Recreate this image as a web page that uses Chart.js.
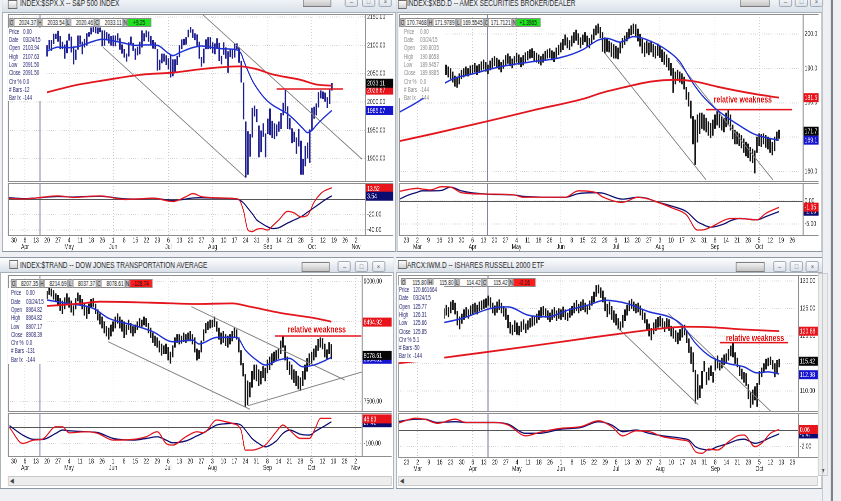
<!DOCTYPE html>
<html>
<head>
<meta charset="utf-8">
<title>Four market panels</title>
<script src="https://cdn.jsdelivr.net/npm/chart.js@4.4.1/dist/chart.umd.min.js"></script>
<style>
  html, body { margin: 0; padding: 0; }
  body { width: 841px; height: 501px; overflow: hidden; background: #eef0f3; position: relative; }
  /* the captured screen is squeezed horizontally, so the whole stage is too */
  #stage { position: absolute; left: 0; top: 0; height: 501px; transform: scaleX(0.72); transform-origin: 0 0;
           font-family: "Liberation Sans", Arial, sans-serif; }
  .abs { position: absolute; box-sizing: border-box; }
  .win { border: 1px solid #8d97a3; background: #fff; }
  .tbar { background: linear-gradient(#fdfdfe, #d9e0e8); border-bottom: 1px solid #a6afba; }
  .ttext { font-size: 9px; color: #2b2b2b; white-space: nowrap; }
  .icon { border: 1px solid #6d6d6d; background: linear-gradient(#fff, #cfcfcf); }
  .btn { border: 1px solid #97a1ad; border-radius: 2px; background: linear-gradient(#fbfcfd, #dce2e9);
         font-size: 8px; line-height: 9px; color: #5a5a5a; text-align: center; }
  .tool { border: 1px solid #7d7d7d; background: linear-gradient(#f2f2f2, #c4c4c4); }
  .cell { border: 1px solid #8a8a8a; background: #fff; font-size: 6.6px; line-height: 7px; color: #111;
          text-align: right; padding-right: 1px; white-space: nowrap; overflow: hidden; }
  .key { background: #c6c6c6; text-align: center; padding: 0; }
  .info { background: #fff; }
  .row { font-size: 6.3px; line-height: 8px; white-space: nowrap; }
  .scroll { background: #ededed; border: 1px solid #c9c9c9; font-size: 7px; line-height: 8px; color: #444; }
</style>
</head>
<body>
<div id="stage"></div>
<script>
const K = 0.72;
const X = px => px / K;   // screen px -> stage px
const FONT = '"Liberation Sans", Arial, sans-serif';

// ---------- axis labels (one tick per week, bar index = 5 * week) ----------
const leftWeeks = ['30','6','13','20','27','4','11','18','26','1','8','15','22','29','6','13','20','27','3','10','17','24','31','8','14','21','28','5','12','19','26','2'];
const leftMonths = ['','Apr','','','','May','','','','Jun','','','','','Jul','','','','Aug','','','','','Sep','','','','Oct','','','','Nov'];
const rightWeeks = ['23','2','9','16','23','30','6','13','20','27','4','11','18','26','1','8','15','22','29','6','13','20','27','3','10','17','24','31','8','14','21','28','5','12','19','26'];
const rightMonths = ['','Mar','','','','','Apr','','','','May','','','','Jun','','','','','Jul','','','','Aug','','','','','Sep','','','','Oct','','',''];
const infoLabels = ['Price','Date','Open','High','Low','Close','Chr %','# Bars','Bar Ix'];

// ---------- S&P 500 ----------
const spxStart = 15;
const spxHigh = [2100,2109,2109,2120,2120, 2125,2116,2106,2101,2108, 2120,2115,2098,2092,2117, 2117,2106,2111,2121,2123,
  2131,2134,2134,2131,2131, 2126,2126,2123,2120,2116, 2117,2117,2121,2112,2101, 2093,2085,2105,2115,2104,
  2094,2097,2106,2126,2121, 2126,2124,2116,2109,2105, 2093,2074,2085,2085,2082, 2077,2083,2075,2075,2081,
  2100,2110,2111,2114,2127, 2132,2128,2121,2119,2106, 2079,2094,2110,2114,2114, 2105,2103,2112,2104,2081,
  2105,2096,2089,2092,2092, 2103,2103,2096,2072,2034, 1965,1948,1943,1989,1993, 1987,1958,1949,1962,1944,
  1970,1988,1966,1962,1960, 1965,1980,1998,2021,1992, 1971,1953,1947,1937,1952, 1931,1899,1922,1928,1951,
  1989,1991,1997,2017,2020, 2018,2016,2008,2023,2033];
const spxLow = [2081,2094,2091,2103,2112, 2107,2094,2094,2077,2087, 2109,2088,2067,2075,2093, 2102,2085,2097,2100,2116,
  2120,2124,2122,2121,2124, 2099,2100,2112,2104,2100, 2099,2099,2109,2093,2086, 2079,2072,2081,2103,2091,
  2075,2083,2085,2097,2108, 2115,2107,2102,2095,2094, 2056,2057,2069,2072,2066, 2058,2044,2046,2052,2066,
  2080,2094,2101,2102,2115, 2123,2114,2110,2100,2077, 2063,2069,2094,2094,2094, 2087,2085,2095,2073,2067,
  2084,2077,2052,2080,2077, 2079,2094,2070,2035,1970, 1867,1872,1904,1938,1975, 1965,1903,1912,1939,1903,
  1944,1942,1937,1935,1940, 1948,1953,1977,1984,1953, 1952,1928,1930,1909,1922, 1872,1872,1887,1901,1893,
  1950,1971,1977,1991,2007, 2006,2001,1990,1997,2021];
const spxFastIdx = [15,20,25,30,35,40,45,50,55,60,65,70,72,75,78,80,85,90,95,100,103,104,106,108,110,114,117,120,124,128,131,133,135,137,140,144];
const spxFast = [2090,2097,2096,2099,2106,2111,2108,2104,2100,2101,2100,2086,2082,2087,2092,2095,2099,2096,2094,2093,2085,2074,2055,2038,2025,2005,1995,1988,1979,1965,1953,1946,1950,1959,1971,1985];
const spxSlowIdx = [15,27,42,57,72,87,102,110,117,130,137,144];
const spxSlow = [2017,2029,2039,2048,2052,2059,2063,2058,2049,2039,2031,2029];
const spxTrend = [[85.7, 2153.7, 157.7, 1899], [40.3, 2097, 104.7, 1867.5]];
const spxResist = [119, 149, 2023];
const spxMacdIdx = [-3,4,10,20,27,39,50,57,63,72,78,81,85,92,100,102,104,106,108,110,112,115,117,120,124,127,130,133,136,139,141,144];
const spxMacd = [1,0,1.3,4,2,4,-0.6,0.2,1,-3.2,3,7,3,1.5,0.5,-1,-15,-40,-42,-39,-38,-40,-35,-27,-16,-18,-23,-21,-4,7,11,14.5];
const spxSignal = [2,0.4,1.3,3.2,2.6,3.6,0.3,0,0.9,-1.9,0,1.3,1.7,1,0.4,-1,-5,-12,-19,-27,-31,-36,-38,-37,-31,-27,-23,-17,-11,-5,-1,4];
const spxTicks = [2150, 2100, 2050, 2000, 1950, 1900];
const spxMacdTicks = [-20, -40];
const spxTags = [[2021, '2028.67', '#e8141c'], [2033.11, '2033.11', '#050505'], [1985.07, '1985.07', '#1515d0']];
const spxMacdTags = [[13.52, '13.52', '#e8141c'], [3.54, '3.54', '#0b0b70']];
const spxOhlc = ['2024.37', '2033.54', '2020.46', '2033.11', '+9.25'];
const spxInfo = ['0.00', '03/24/15', '2103.94', '2107.63', '2091.50', '2091.50', '0.0', '-12', '-144'];

// ---------- Broker/Dealer index ----------
const xbdStart = 15;
const xbdHigh = [191.0,192.0,191.5,191.0,190.5, 190.0,189.0,187.8,187.5,188.5, 189.5,190.0,190.5,190.0,190.8,
  191.0,191.5,190.8,191.2,192.0, 192.5,191.8,191.0,192.2,193.0, 193.5,193.0,192.5,191.8,192.5,
  193.8,194.3,193.5,192.8,193.5, 194.5,194.0,193.2,193.8,194.6, 195.0,195.5,195.8,195.0,194.5,
  194.0,193.5,194.2,195.0,195.5, 195.8,195.2,194.8,196.0,196.8, 197.5,198.5,199.8,199.0,198.2,
  199.5,200.5,201.2,200.2,199.0, 199.8,200.5,199.5,198.8,199.8, 201.5,202.5,203.0,202.0,200.5,
  199.0,198.5,198.0,197.5,197.0, 196.5,196.0,197.5,198.8,199.5, 200.5,201.5,202.5,203.0,202.8,
  201.5,200.0,198.5,197.5,198.0, 197.5,198.0,197.0,196.5,197.2, 196.5,195.5,194.8,194.0,193.0,
  191.5,190.0,189.0,189.5,189.0, 188.5,187.5,184.5,183.0,180.5, 176.0,175.0,176.5,177.0,177.0,
  176.5,175.5,174.5,174.0,175.0, 176.5,177.5,177.0,176.0,175.5, 177.0,178.0,176.5,173.5,172.0,
  171.5,171.0,170.5,169.5,168.5, 168.0,167.0,166.5,166.0,170.0, 171.0,170.8,171.0,170.5,170.0,
  169.5,168.5,170.0,171.5,172.0];
const xbdLow = [188.5,189.5,188.8,188.2,187.5, 187.0,186.0,184.8,184.5,185.5, 187.0,187.5,188.0,187.8,188.2,
  188.5,189.0,188.2,188.8,189.5, 189.8,189.2,188.5,189.6,190.2, 190.8,190.5,189.8,189.0,190.0,
  191.0,191.5,190.8,190.2,191.0, 191.8,191.2,190.5,191.0,192.0, 192.5,193.0,193.2,192.2,191.8,
  191.5,191.0,191.8,192.5,193.0, 193.2,192.5,192.0,193.2,194.0, 194.8,195.5,196.8,196.0,195.5,
  196.5,197.5,198.2,197.0,196.0, 197.0,197.8,196.5,196.0,197.2, 198.5,199.8,200.3,199.0,195.0,
  194.5,195.0,194.8,193.5,193.0, 193.0,192.8,194.5,196.0,197.0, 198.0,199.0,199.8,200.2,199.5,
  198.0,196.5,194.5,193.5,194.5, 194.0,194.8,193.5,193.0,193.8, 193.2,192.0,191.2,190.5,189.5,
  188.0,183.0,185.5,186.5,186.0, 185.5,184.0,181.0,179.0,175.5, 168.0,162.0,168.5,171.0,172.5,
  172.0,171.5,170.5,169.8,170.5, 172.5,173.5,172.8,172.0,171.5, 173.0,173.5,172.0,169.5,168.0,
  168.0,167.5,166.8,165.5,164.5, 164.0,163.0,162.5,159.5,165.5, 167.5,167.2,168.0,167.0,166.5,
  165.5,164.8,166.0,169.0,169.6];
const xbdFastIdx = [-4,5,16,22,28,43,55,70,80,87,91,97,103,111,118,124,129,134,140,146,152,158,164,169];
const xbdFast = [177,180.2,185.2,187.2,188.1,190.6,191.8,193.2,195.5,198.3,198.8,197.7,199.3,197.9,195.4,192,186.7,182.3,178.4,175.5,173,170.8,169.7,169.1];
const xbdSlowIdx = [-4,13,36,58,81,88,100,111,122,131,141,156,169];
const xbdSlow = [168.7,171.1,174.5,177.9,181.3,182.8,184.7,186.2,186.7,186.2,184.7,182.8,181.5];
const xbdTrend = [[90, 194.5, 136, 157.5], [122.5, 192.5, 166.3, 157.5]];
const xbdResist = [136, 175, 178];
const xbdNote = [152.6, 180.8];
const xbdMacdIdx = [-4,1,5,7,11,16,20,25,36,49,53,72,78,86,89,98,105,109,113,121,127,132,134,138,144,147,151,159,163,169];
const xbdMacd = [2.0,2.5,2.75,2.6,2.4,3.1,3.0,1.8,1.5,1.3,0.8,0.8,2.2,1.8,0.9,-0.3,0.8,0.5,-0.1,-1.6,-3.0,-6.3,-6.3,-5.7,-4.2,-3.8,-3.8,-4.1,-2.7,-1.4];
const xbdSignal = [0.2,1.3,1.9,2.2,2.2,2.3,3.0,2.2,1.5,1.3,1.0,0.8,1.6,1.8,1.7,0.4,0.8,0.6,-0.1,-1.2,-2.3,-4.5,-5.0,-5.7,-5.0,-4.3,-3.8,-4.1,-3.4,-2.3];
const xbdTicks = [200, 190, 180, 170, 160];
const xbdMacdTicks = [0, -5];
const xbdTags = [[181.5, '181.5', '#e8141c'], [171.7, '171.7', '#050505'], [169.1, '169.1', '#1515d0']];
const xbdMacdTags = [[-2.23, '-2.23', '#0b0b70'], [-1.35, '-1.35', '#e8141c']];
const xbdOhlc = ['170.7468', '171.9789', '169.5545', '171.7121', '+1.3965'];
const xbdInfo = ['0.00', '03/24/15', '190.8035', '190.8658', '189.9457', '189.9885', '0.0', '-144', '-144'];

// ---------- Dow Jones Transportation ----------
const tranStart = 15;
const tranHigh = [8880,8930,8910,8890,8850, 8830,8790,8760,8800,8850, 8800,8760,8700,8790,8860, 8830,8780,8720,8680,8720,
  8780,8790,8720,8650,8600, 8560,8500,8440,8420,8460, 8500,8560,8600,8560,8520, 8500,8460,8520,8480,8440,
  8460,8500,8540,8520,8560, 8540,8480,8420,8360,8320, 8300,8260,8220,8200,8220, 8180,8120,8200,8300,8340,
  8340,8320,8360,8340,8360, 8380,8340,8300,8160,8140, 8260,8400,8480,8500,8520, 8520,8560,8500,8420,8360,
  8380,8340,8320,8340,8380, 8420,8400,8300,8140,7980, 7840,7760,7740,7880,7960, 7960,7900,7880,7940,7920,
  8020,8060,8100,8120,8140, 8160,8260,8320,8200,8060, 8000,7960,7900,7880,7820, 7800,7880,7960,8040,8100,
  8120,8160,8200,8280,8300, 8290,8220,8150,8240,8215];
const tranLow = [8790,8840,8820,8780,8760, 8700,8640,8600,8660,8740, 8680,8620,8580,8660,8760, 8720,8660,8580,8540,8600,
  8680,8690,8600,8520,8470, 8420,8360,8320,8280,8320, 8380,8420,8480,8420,8380, 8300,8340,8400,8360,8320,
  8360,8400,8440,8440,8460, 8440,8360,8300,8240,8200, 8180,8120,8080,8100,8100, 8020,7980,8060,8180,8240,
  8220,8230,8250,8240,8260, 8260,8220,8120,8020,8040, 8120,8260,8360,8400,8420, 8430,8440,8380,8280,8220,
  8240,8200,8180,8220,8260, 8300,8280,8120,7960,7820, 7440,7460,7560,7680,7780, 7760,7700,7720,7800,7760,
  7860,7900,7960,8000,8020, 8040,8100,8180,8020,7900, 7840,7780,7740,7700,7660, 7640,7700,7780,7880,7960,
  7980,8020,8060,8140,8180, 8160,8060,8040,8100,8037];
const tranFastIdx = [15,24,36,43,54,63,72,81,84,92,101,105,110,114,120,125,131,136,140,144];
const tranFast = [8771,8729,8667,8542,8458,8375,8250,8271,8221,8304,8304,8146,8021,7958,8021,8042,7937,7958,8000,8054];
const tranSlowIdx = [15,31,39,62,84,99,107,122,137,144];
const tranSlow = [8696,8729,8750,8738,8721,8729,8688,8604,8542,8500];
const tranTrend = [[42.7, 8250, 107, 7405], [80.5, 8688, 150, 7771], [106.2, 7450, 158.3, 7875]];
const tranResist = [118.3, 157.6, 8321];
const tranNote = [137.4, 8396];
const tranMacdIdx = [-2,4,9,13,19,22,25,33,38,45,54,60,65,69,72,78,83,86,92,96,99,103,105,108,111,114,119,122,125,130,134,137,139,141,144];
const tranMacd = [-5,-100,-80,-74,0,0,-36,-30,-40,-80,-76,-60,-30,-100,-110,-60,-30,-36,40,30,20,-20,-140,-140,-130,-110,-30,10,-20,-70,-70,0,50,50,50];
const tranSignal = [6,-50,-76,-76,-40,-20,-24,-30,-35,-70,-80,-70,-60,-80,-96,-85,-55,-36,10,18,20,10,-20,-70,-100,-120,-85,-40,-20,-45,-50,-25,-10,5,30];
const tranTicks = [9000, 8500, 8000, 7500];
const tranMacdTicks = [-100];
const tranTags = [[8494.92, '8494.92', '#e8141c'], [8030, '8054.31', '#1515d0'], [8078.61, '8078.61', '#050505']];
const tranMacdTags = [[24, '27.42', '#0b0b70'], [46.63, '46.63', '#e8141c']];
const tranOhlc = ['8207.35', '8214.69', '8037.37', '8078.61', '-128.74'];
const tranInfo = ['0.00', '03/24/15', '8964.82', '8964.82', '8907.17', '8908.39', '0.0', '-131', '-144'];

// ---------- iShares Russell 2000 ----------
const iwmStart = 15;
const iwmHigh = [124.0,124.3,125.0,125.6,125.2, 126.2,126.5,126.0,124.5,123.5, 124.0,124.8,125.2,124.8,125.5,
  125.8,126.0,125.6,126.2,126.4, 126.6,126.8,127.3,127.0,126.0, 125.5,126.2,126.6,126.0,125.4,
  125.0,123.8,122.5,122.0,122.8, 122.4,121.8,122.6,123.0,122.2, 122.8,123.2,123.6,123.4,124.0,
  124.6,125.2,125.4,125.0,124.6, 124.2,124.8,125.2,124.6,125.0, 124.8,125.3,124.8,124.2,125.0,
  125.4,126.0,126.5,125.8,126.2, 126.6,126.0,125.6,126.4,127.2, 128.0,129.2,129.3,128.8,128.2,
  127.0,125.8,126.2,125.4,124.6, 124.0,123.2,122.6,123.8,124.8, 125.6,126.4,126.7,126.2,125.8,
  126.0,125.5,124.8,124.2,123.0, 122.2,121.4,122.4,123.0,123.4, 123.6,123.2,122.6,123.2,123.0,
  121.8,121.4,121.0,120.6,121.2, 121.6,122.0,121.0,119.5,118.0, 117.0,113.8,113.0,111.0,113.6,
  115.4,113.4,114.2,114.6,113.4, 115.8,116.4,115.4,116.0,116.6, 116.8,117.6,118.2,118.8,117.0,
  116.0,114.6,114.0,113.4,113.2, 111.2,109.8,110.2,110.8,111.4, 113.6,114.2,115.0,115.8,116.0,
  116.2,115.6,115.0,115.6,115.8];
const iwmLow = [122.2,122.8,123.2,123.8,123.5, 124.2,124.8,124.0,122.0,121.3, 122.3,123.0,123.5,123.2,123.8,
  124.0,124.3,124.0,124.6,124.8, 125.0,125.2,125.6,125.2,124.2, 123.8,124.3,124.8,124.2,123.6,
  123.0,121.5,120.5,120.2,120.8, 120.3,120.2,120.8,121.2,120.6, 121.2,121.6,121.8,122.0,122.4,
  123.0,123.4,123.8,123.4,123.0, 122.6,123.0,123.4,122.8,123.2, 123.0,123.5,123.0,122.8,123.4,
  123.8,124.2,124.6,124.2,124.6, 124.8,124.4,124.0,124.8,125.6, 126.2,127.2,127.8,127.0,126.2,
  124.6,123.5,124.0,123.0,122.5, 122.0,121.3,121.0,121.6,122.8, 123.8,124.6,125.0,124.6,124.2,
  124.4,123.8,123.0,122.4,121.0, 120.0,119.3,120.4,121.0,121.6, 121.8,121.4,120.8,121.4,121.0,
  120.0,119.6,119.0,118.6,119.2, 119.8,120.2,118.8,117.0,115.0, 113.5,107.8,108.5,108.8,110.5,
  113.6,111.2,112.0,112.8,111.6, 113.8,114.2,113.8,114.2,114.8, 115.0,115.6,116.4,116.2,115.0,
  114.4,112.8,112.2,111.6,111.0, 108.6,107.0,107.6,108.4,107.2, 111.2,112.6,113.4,114.0,114.6,
  114.8,114.0,112.6,113.2,114.4];
const iwmFastIdx = [15,25,38,46,55,64,73,82,90,100,110,119,125,131,138,146,153,159,164,169];
const iwmFast = [122.3,123.2,125.0,125.3,123.8,123.5,124.7,125.6,126.5,125.9,124.4,123.5,122,118.7,116.2,115,114.4,113.3,113.5,113.1];
const iwmSlowIdx = [-5,8,25,55,85,100,116,126,138,153,169];
const iwmSlow = [115,115.6,116.5,118.1,119.8,120.6,121.4,121.7,121.6,121.2,120.9];
const iwmTrend = [[96, 121.4, 132.3, 107.5], [118.7, 124.1, 165.5, 106.2]];
const iwmResist = [142, 173, 118.8];
const iwmNote = [158, 119.6];
const iwmMacdIdx = [-4,4,8,14,22,27,40,46,54,60,70,79,87,93,98,104,110,116,125,128,131,134,137,141,146,150,153,158,161,165,169];
const iwmMacd = [0.8,1.4,1.3,0.8,1.3,0.9,0.9,0.6,-0.7,-0.3,0.2,0.4,1.1,0.4,-0.7,-0.1,-0.2,-0.8,-1.2,-1.4,-2.6,-2.8,-2.3,-2.4,-1.4,-0.7,-0.6,-2.0,-1.6,-0.4,0.06];
const iwmSignal = [1.0,1.3,1.3,0.9,1.0,0.9,0.9,0.7,-0.4,-0.4,0.1,0.3,1.0,0.6,-0.2,0,-0.4,-0.7,-1.0,-1.2,-2.0,-2.3,-2.4,-2.0,-1.6,-1.2,-1.1,-1.6,-1.4,-0.9,-0.47];
const iwmTicks = [130, 125, 120, 115, 110];
const iwmMacdTicks = [-2];
const iwmTags = [[120.88, '120.88', '#e8141c'], [115.42, '115.42', '#050505'], [112.98, '112.98', '#1515d0']];
const iwmMacdTags = [[-0.47, '-0.47', '#0b0b70'], [0.06, '0.06', '#e8141c']];
const iwmOhlc = ['115.80', '115.80', '114.42', '115.42', '-0.16'];
const iwmInfo = ['120.661664', '03/24/15', '125.77', '126.31', '125.66', '125.85', '5.1', '-50', '-144'];

// ---------------------------------------------------------------------------
function pts(idx, vals) { return idx.map((x, k) => ({ x: x, y: vals[k] })); }

const panels = [
  { win: [2, -6, 394, 258], bar: [2, -6, 394, 19], iconY: 0, title: 'INDEX:$SPX.X -- S&P 500 INDEX', titleX: 20, iconX: 8,
    tool: [303, -3, 28, 10], btns: [345, 362, 379], btnY: -4,
    price: [8, 14, 385, 168], macd: [8, 183, 385, 68], axisW: 28, xAxisH: 15,
    xMin: -2.72, xMax: 159.1, weeks: leftWeeks, months: leftMonths,
    yRange: [1858.7, 2155.5], yTicks: spxTicks, dec: 2, mRange: [-47.7, 20.6], mTicks: spxMacdTicks,
    start: spxStart, high: spxHigh, low: spxLow, barColor: '#1d1d8c',
    fast: pts(spxFastIdx, spxFast), slow: pts(spxSlowIdx, spxSlow), trend: spxTrend, resist: spxResist, note: null,
    cursor: 11.8, macdLine: pts(spxMacdIdx, spxMacd), signal: pts(spxMacdIdx, spxSignal),
    tags: spxTags, mTags: spxMacdTags,
    ohlc: { x: 9, y: 18, w: 24, cw: 24, vals: spxOhlc, bg: '#1fe31f' },
    info: { box: [8, 28, 37, 73], lx: 9, vx: 23, y0: 31.7, vals: spxInfo, color: '#23236f' } },
  { win: [397, -6, 425, 258], bar: [397, -6, 425, 19], iconY: 0, title: 'INDEX:$XBD.D -- AMEX SECURITIES BROKER/DEALER', titleX: 407, iconX: 398,
    tool: [740, -3, 30, 10], btns: [779, 795, 810], btnY: -4,
    price: [399, 14, 420, 168], macd: [399, 183, 420, 68], axisW: 16, xAxisH: 15,
    xMin: -3.4, xMax: 179.74, weeks: rightWeeks, months: rightMonths,
    yRange: [156.9, 205.9], yTicks: xbdTicks, dec: 1, mRange: [-7.6, 3.9], mTicks: xbdMacdTicks,
    start: xbdStart, high: xbdHigh, low: xbdLow, barColor: '#141414',
    fast: pts(xbdFastIdx, xbdFast), slow: pts(xbdSlowIdx, xbdSlow), trend: xbdTrend, resist: xbdResist, note: xbdNote,
    cursor: 36.7, macdLine: pts(xbdMacdIdx, xbdMacd), signal: pts(xbdMacdIdx, xbdSignal),
    tags: xbdTags, mTags: xbdMacdTags,
    ohlc: { x: 400, y: 18, w: 23.5, cw: 24, vals: xbdOhlc, bg: '#1fe31f' },
    info: { box: [399, 27, 46, 71], lx: 404, vx: 420, y0: 31.7, vals: xbdInfo, color: '#8a8a8a' } },
  { win: [0, 257, 394, 232], bar: [0, 258, 394, 15], iconY: 260, title: 'INDEX:$TRAND -- DOW JONES TRANSPORTATION AVERAGE', titleX: 20, iconX: 9,
    tool: [302, 262, 28, 10], btns: [338, 355, 372], btnY: 261,
    price: [8, 275, 384, 137], macd: [8, 413, 384, 59], axisW: 30, xAxisH: 15,
    xMin: -2.72, xMax: 157.75, weeks: leftWeeks, months: leftMonths,
    yRange: [7371, 9084], yTicks: tranTicks, dec: 2, mRange: [-181, 82], mTicks: tranMacdTicks,
    start: tranStart, high: tranHigh, low: tranLow, barColor: '#141414',
    fast: pts(tranFastIdx, tranFast), slow: pts(tranSlowIdx, tranSlow), trend: tranTrend, resist: tranResist, note: tranNote,
    cursor: 11.8, macdLine: pts(tranMacdIdx, tranMacd), signal: pts(tranMacdIdx, tranSignal),
    tags: tranTags, mTags: tranMacdTags, scroll: [8, 476, 384, 10],
    ohlc: { x: 11, y: 279, w: 24, cw: 23, vals: tranOhlc, bg: '#ff1c1c' },
    info: { box: [8, 288, 39, 76], lx: 11, vx: 26, y0: 293.3, vals: tranInfo, color: '#23236f' } },
  { win: [396, 257, 426, 232], bar: [396, 258, 426, 15], iconY: 260, title: 'ARCX:IWM.D -- ISHARES RUSSELL 2000 ETF', titleX: 407, iconX: 398,
    tool: [736, 262, 29, 10], btns: [773, 790, 806], btnY: 261,
    price: [398, 275, 420, 137], macd: [398, 413, 420, 60], axisW: 20, xAxisH: 15,
    xMin: -3.85, xMax: 177.47, weeks: rightWeeks, months: rightMonths,
    yRange: [106.2, 131.1], yTicks: iwmTicks, dec: 2, mRange: [-3.36, 2.04], mTicks: iwmMacdTicks,
    start: iwmStart, high: iwmHigh, low: iwmLow, barColor: '#141414',
    fast: pts(iwmFastIdx, iwmFast), slow: pts(iwmSlowIdx, iwmSlow), trend: iwmTrend, resist: iwmResist, note: iwmNote,
    cursor: 36.9, macdLine: pts(iwmMacdIdx, iwmMacd), signal: pts(iwmMacdIdx, iwmSignal),
    tags: iwmTags, mTags: iwmMacdTags, scroll: [398, 476, 420, 10],
    ohlc: { x: 401, y: 278, w: 22.5, cw: 22, vals: iwmOhlc, bg: '#ff1c1c' },
    info: { box: [398, 285, 46, 77], lx: 399, vx: 413, y0: 290, vals: iwmInfo, color: '#23236f' } }
];

const stage = document.getElementById('stage');
stage.style.width = X(841) + 'px';

function box(cls, r, html, style) {
  const d = document.createElement('div');
  d.className = 'abs ' + cls;
  d.style.left = X(r[0]) + 'px';
  d.style.top = r[1] + 'px';
  d.style.width = X(r[2]) + 'px';
  d.style.height = r[3] + 'px';
  if (style) Object.assign(d.style, style);
  if (html != null) d.innerHTML = html;
  stage.appendChild(d);
  return d;
}

function canvasAt(r) {
  const c = document.createElement('canvas');
  c.width = Math.round(X(r[2]));
  c.height = r[3];
  c.style.position = 'absolute';
  c.style.left = X(r[0]) + 'px';
  c.style.top = r[1] + 'px';
  stage.appendChild(c);
  return c;
}

// cursor line, zero line, frame, notes and the coloured value tags on the axis
function marks(cfg) {
  return {
    id: 'marks',
    beforeDatasetsDraw(chart) {
      const { ctx, chartArea: a } = chart;
      const x = chart.scales.x, y = chart.scales.y;
      ctx.save();
      if (cfg.cursor != null) {
        const px = x.getPixelForValue(cfg.cursor);
        ctx.strokeStyle = '#7c82a8';
        ctx.lineWidth = X(1);
        ctx.beginPath(); ctx.moveTo(px, a.top); ctx.lineTo(px, a.bottom); ctx.stroke();
      }
      if (cfg.zero) {
        const py = Math.round(y.getPixelForValue(0)) + 0.5;
        ctx.strokeStyle = '#555';
        ctx.lineWidth = 1;
        ctx.beginPath(); ctx.moveTo(a.left, py); ctx.lineTo(a.right, py); ctx.stroke();
      }
      ctx.restore();
    },
    afterDraw(chart) {
      const { ctx, chartArea: a, width } = chart;
      const x = chart.scales.x, y = chart.scales.y;
      ctx.save();
      ctx.strokeStyle = '#8e8e8e';
      ctx.lineWidth = 1;
      ctx.beginPath();
      ctx.moveTo(0, a.top + 0.5); ctx.lineTo(width, a.top + 0.5);
      ctx.moveTo(0, a.bottom - 0.5); ctx.lineTo(width, a.bottom - 0.5);
      ctx.stroke();
      ctx.lineWidth = X(1);
      ctx.beginPath();
      ctx.moveTo(a.left + 0.7, a.top); ctx.lineTo(a.left + 0.7, a.bottom);
      ctx.moveTo(a.right + 0.7, a.top); ctx.lineTo(a.right + 0.7, a.bottom);
      ctx.stroke();

      if (cfg.note) {
        ctx.font = 'bold 9.5px ' + FONT;
        ctx.fillStyle = '#e60d0d';
        ctx.textAlign = 'center';
        ctx.textBaseline = 'middle';
        ctx.fillText('relative weakness', x.getPixelForValue(cfg.note[0]), y.getPixelForValue(cfg.note[1]));
      }
      ctx.font = '7px ' + FONT;
      ctx.textAlign = 'left';
      ctx.textBaseline = 'middle';
      (cfg.tags || []).forEach(t => {
        const py = y.getPixelForValue(t[0]);
        ctx.fillStyle = t[2];
        ctx.fillRect(a.right + 1.4, py - 4.5, width - a.right - 1.4, 9);
        ctx.fillStyle = '#fff';
        ctx.fillText(t[1], a.right + X(2), py + 0.5);
      });
      ctx.restore();
    }
  };
}

function xScale(p, showLabels) {
  return {
    type: 'linear', min: p.xMin, max: p.xMax, offset: false,
    afterBuildTicks: s => { s.ticks = p.weeks.map((_, w) => ({ value: w * 5 })); },
    afterFit: s => { s.height = showLabels ? p.xAxisH : 0; s.paddingLeft = 0; s.paddingRight = 0; },
    grid: { offset: false, drawTicks: false,
      color: c => (c.tick && p.months[Math.round(c.tick.value / 5)]) ? '#c9c9c9' : 'rgba(0,0,0,0)' },
    border: { display: false, dash: [1, 2] },
    ticks: { display: showLabels, autoSkip: false, maxRotation: 0, padding: 1.5, color: '#222',
      font: { family: FONT, size: 7, lineHeight: 0.9 },
      callback: v => { const w = Math.round(v / 5); return p.months[w] ? [p.weeks[w], p.months[w]] : p.weeks[w]; } }
  };
}

function yScale(p, range, ticks, dec) {
  return {
    type: 'linear', position: 'right', min: range[0], max: range[1],
    afterBuildTicks: s => { s.ticks = ticks.map(v => ({ value: v })); },
    afterFit: s => { s.width = X(p.axisW); s.paddingTop = 0; s.paddingBottom = 0; },
    grid: { drawTicks: false, color: '#d0d0d0' },
    border: { display: false, dash: [1, 2] },
    ticks: { padding: X(2), color: '#222', font: { family: FONT, size: 7 }, callback: v => v.toFixed(dec) }
  };
}

function options(p, y, showX) {
  return {
    responsive: false, animation: false, devicePixelRatio: 2, events: [],
    layout: { padding: 0, autoPadding: false },
    plugins: { legend: { display: false }, tooltip: { enabled: false } },
    scales: { x: xScale(p, showX), y: y }
  };
}

function curve(data, color, width) {
  return { type: 'line', data: data, borderColor: color, borderWidth: width, pointRadius: 0, fill: false,
           cubicInterpolationMode: 'monotone' };
}

function segment(x1, y1, x2, y2, color, width) {
  return { type: 'line', data: [{ x: x1, y: y1 }, { x: x2, y: y2 }], borderColor: color, borderWidth: width,
           pointRadius: 0, fill: false };
}

function buildFrame(p) {
  box('win', p.win);
  box('tbar', p.bar);
  box('icon', [p.iconX, p.iconY, 9, 9]);
  box('ttext', [p.titleX, p.bar[1], 280, p.bar[3]], p.title, { lineHeight: p.bar[3] + 'px' });
  box('tool', p.tool);
  ['&#8211;', '&#9633;', '&#215;'].forEach((s, k) => box('btn', [p.btns[k], p.btnY, 13, 11], s));
  if (p.scroll) box('scroll', p.scroll, '&nbsp;&#9664;');
}

function buildCharts(p) {
  const priceSets = [
    curve(p.slow, '#e3141c', 1.8),
    curve(p.fast, '#1e30d6', 1.5),
    segment(p.resist[0], p.resist[2], p.resist[1], p.resist[2], '#e3141c', 1.5)
  ];
  p.trend.forEach(t => priceSets.push(segment(t[0], t[1], t[2], t[3], '#808080', 1)));
  priceSets.push({ type: 'bar', data: p.high.map((h, k) => ({ x: p.start + k, y: [p.low[k], h] })),
                   backgroundColor: p.barColor, barThickness: X(1.1), grouped: false });

  new Chart(canvasAt(p.price), {
    type: 'bar',
    data: { datasets: priceSets },
    options: options(p, yScale(p, p.yRange, p.yTicks, p.dec), false),
    plugins: [marks({ cursor: p.cursor, note: p.note, tags: p.tags })]
  });

  new Chart(canvasAt(p.macd), {
    type: 'line',
    data: { datasets: [curve(p.macdLine, '#e3141c', 1.3), curve(p.signal, '#0c0c70', 1.3)] },
    options: options(p, yScale(p, p.mRange, p.mTicks, 2), true),
    plugins: [marks({ cursor: p.cursor, zero: true, tags: p.mTags })]
  });
}

function buildInfo(p) {
  const o = p.ohlc;
  let x = o.x;
  ['O', 'H', 'L', 'C', 'N'].forEach((k, n) => {
    box('cell key', [x, o.y, 4.5, 9], k);
    x += 4.5;
    const w = n === 4 ? o.cw : o.w;
    box('cell', [x, o.y, w, 9], o.vals[n], n === 4 ? { background: o.bg, textAlign: 'center' } : null);
    x += w;
  });
  const f = p.info;
  box('info', f.box);
  infoLabels.forEach((lab, k) => {
    const y = f.y0 + k * 8.3 - 4;
    box('row', [f.lx, y, 16, 8], lab, { color: f.color });
    box('row', [f.vx, y, 30, 8], f.vals[k], { color: f.color });
  });
}

panels.forEach(p => { buildFrame(p); buildCharts(p); buildInfo(p); });

// outer scrollbars / edges of the application window
box('scroll', [818, 273, 10, 203], '<div style="position:absolute;bottom:0;width:100%;text-align:center">&#9660;</div>');
box('', [822, 0, 1, 501], null, { background: '#b7bcc3' });
box('', [831, 0, 2, 501], null, { background: '#7d838b' });
</script>
</body>
</html>
